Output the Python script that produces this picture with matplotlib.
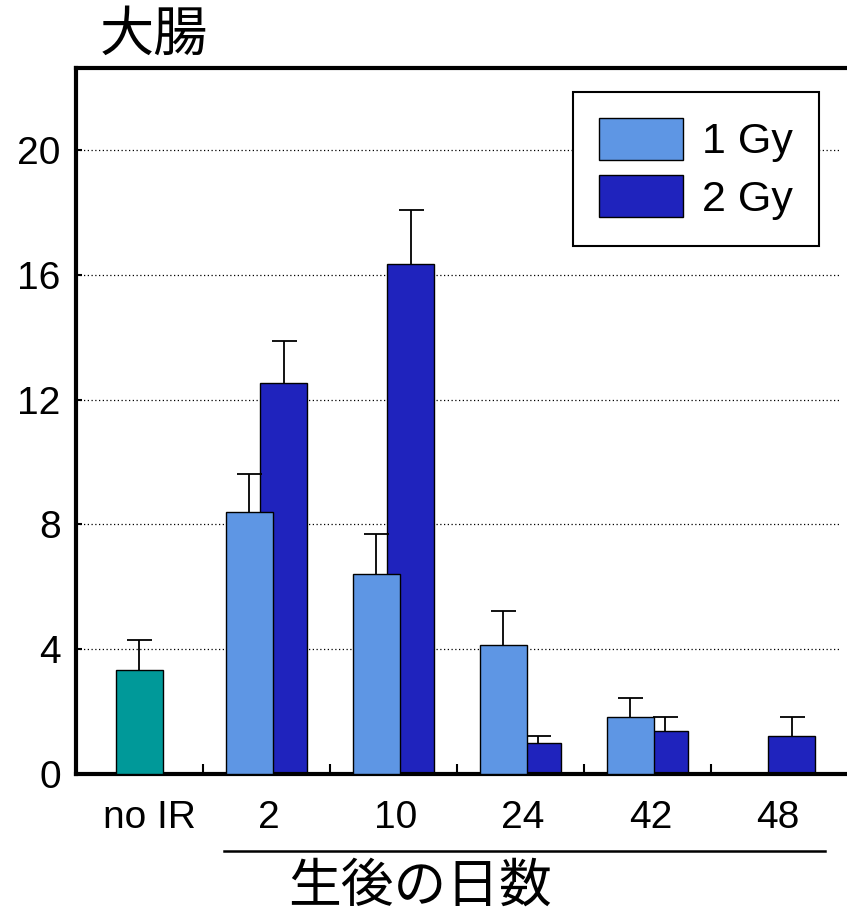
import numpy as np
import matplotlib
matplotlib.use("Agg")
import matplotlib.pyplot as plt
from matplotlib.lines import Line2D
from matplotlib.patches import Patch

plt.rcParams['font.family'] = ['Liberation Sans', 'Noto Sans CJK JP', 'DejaVu Sans']

# Days after birth and measured values (large intestine)
day_labels = ['no IR', '2', '10', '24', '42', '48']
control_mean = 3.33
control_err = 0.96
irr_days = ['2', '10', '24', '42', '48']
gy1_mean = [8.40, 6.41, 4.13, 1.83, None]
gy1_err = [1.22, 1.28, 1.09, 0.61, None]
gy2_mean = [12.53, 16.35, 1.00, 1.37, 1.23]
gy2_err = [1.35, 1.73, 0.22, 0.46, 0.60]
yticks = [0, 4, 8, 12, 16, 20]

c_ctrl = '#009999'
c_1gy = '#5E96E4'
c_2gy = '#1F23BD'

fig = plt.figure(figsize=(8.47, 9.18), dpi=100)
ax = fig.add_axes([76 / 847, 144 / 918, 771 / 847, 706 / 918])

width = 0.37
off = 0.134


def upper_error(x, mean, err, z):
    eb = ax.errorbar(x, mean, yerr=[[0], [err]], fmt='none', ecolor='black',
                     elinewidth=1.3, capsize=9, capthick=1.3, zorder=z)
    # keep only the top cap
    eb[1][0].set_visible(False)


# control bar
ax.bar(0, control_mean, width, color=c_ctrl, edgecolor='black', linewidth=1.0, zorder=3)
upper_error(0, control_mean, control_err, 3)

for i, d in enumerate(irr_days):
    x = day_labels.index(d)
    if gy2_mean[i] is not None:
        ax.bar(x + off, gy2_mean[i], width, color=c_2gy, edgecolor='black', linewidth=1.0, zorder=2)
        upper_error(x + off, gy2_mean[i], gy2_err[i], 2)
    if gy1_mean[i] is not None:
        ax.bar(x - off, gy1_mean[i], width, color=c_1gy, edgecolor='black', linewidth=1.0, zorder=3)
        upper_error(x - off, gy1_mean[i], gy1_err[i], 3)

ax.set_xlim(-0.5, 5.571)
ax.set_ylim(0, 22.63)

# dotted reference lines
for y in yticks[1:]:
    ax.hlines(y, -0.5, 5.52, colors='black', linestyles=(0, (1, 2)), linewidth=0.9, zorder=1)

ax.set_yticks(yticks)
ax.set_yticklabels([str(v) for v in yticks], fontsize=28)
ax.tick_params(axis='y', direction='in', length=4, width=1.5, pad=11)

centers = np.arange(len(day_labels))
ax.set_xticks(centers[:-1] + 0.5)
ax.set_xticklabels([])
ax.tick_params(axis='x', which='major', direction='in', length=7, width=1.5)
ax.set_xticks(centers + np.array([0.08, 0.02, 0.02, 0.02, 0.03, 0.03]), minor=True)
ax.set_xticklabels(day_labels, minor=True, fontsize=28)
ax.tick_params(axis='x', which='minor', length=0, pad=19)

for s in ['left', 'bottom', 'top']:
    ax.spines[s].set_linewidth(3)
ax.spines['right'].set_visible(False)

leg = ax.legend(handles=[Patch(facecolor=c_1gy, edgecolor='black', linewidth=1.0, label='1 Gy'),
                         Patch(facecolor=c_2gy, edgecolor='black', linewidth=1.0, label='2 Gy')],
                loc='upper left', bbox_to_anchor=(573 / 847, 1 - 92 / 918),
                bbox_transform=fig.transFigure, fontsize=31, fancybox=False,
                framealpha=1, edgecolor='black', handlelength=1.95, handleheight=1.12,
                borderpad=0.6, labelspacing=0.3, handletextpad=0.45, borderaxespad=0)
leg.get_frame().set_linewidth(1.5)

fig.text(100 / 847, 1 - 37 / 918, '大腸', fontsize=39, ha='left', va='center')
fig.add_artist(Line2D([224 / 847, 825 / 847], [1 - 851 / 918, 1 - 851 / 918],
                      color='black', linewidth=1.8, transform=fig.transFigure))
fig.text(420 / 847, 1 - 888 / 918, '生後の日数', fontsize=38, ha='center', va='center')

fig.savefig('out.png', dpi=100)
